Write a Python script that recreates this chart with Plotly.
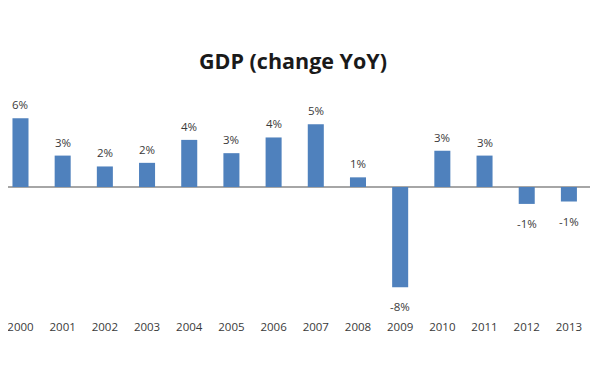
import plotly.graph_objects as go

years = ["2000", "2001", "2002", "2003", "2004", "2005", "2006",
         "2007", "2008", "2009", "2010", "2011", "2012", "2013"]
gdp_change = [5.7, 2.6, 1.7, 2.0, 3.9, 2.8, 4.1, 5.2, 0.8, -8.3, 3.0, 2.6, -1.4, -1.2]
labels = [f"{round(v):d}%" for v in gdp_change]

BAR = "#4F81BD"
TXT = "#3a3a3a"
FONT = "Open Sans"

fig = go.Figure(go.Bar(x=years, y=gdp_change, marker=dict(color=BAR, line=dict(width=0)),
                       hoverinfo="skip"))

for i, (v, lab) in enumerate(zip(gdp_change, labels)):
    fig.add_annotation(x=i, y=v, text=lab, showarrow=False,
                       yanchor="bottom" if v >= 0 else "top",
                       yshift=4 if v >= 0 else -10,
                       font=dict(family=FONT, size=11.5, color=TXT))

fig.update_layout(
    width=600, height=380,
    margin=dict(l=0, r=18, t=92, b=70),
    paper_bgcolor="white", plot_bgcolor="white",
    bargap=0.62,
    showlegend=False,
    title=dict(text="<b>GDP (change YoY)</b>", x=(293 - 8) / 600, xanchor="center",
               y=1 - 53 / 380, yanchor="middle",
               font=dict(family=FONT, size=21.5, color="#1a1a1a")),
    xaxis=dict(type="category", range=[-0.296, len(years) - 0.5], showline=False,
               showgrid=False, ticks="", tickfont=dict(family=FONT, size=11.5, color=TXT)),
    yaxis=dict(range=[-10.84, 7.2], showgrid=False, showticklabels=False, ticks="",
               zeroline=True, zerolinecolor="#A6A6A6", zerolinewidth=1.5, showline=False),
)

fig.write_html("out.html")
